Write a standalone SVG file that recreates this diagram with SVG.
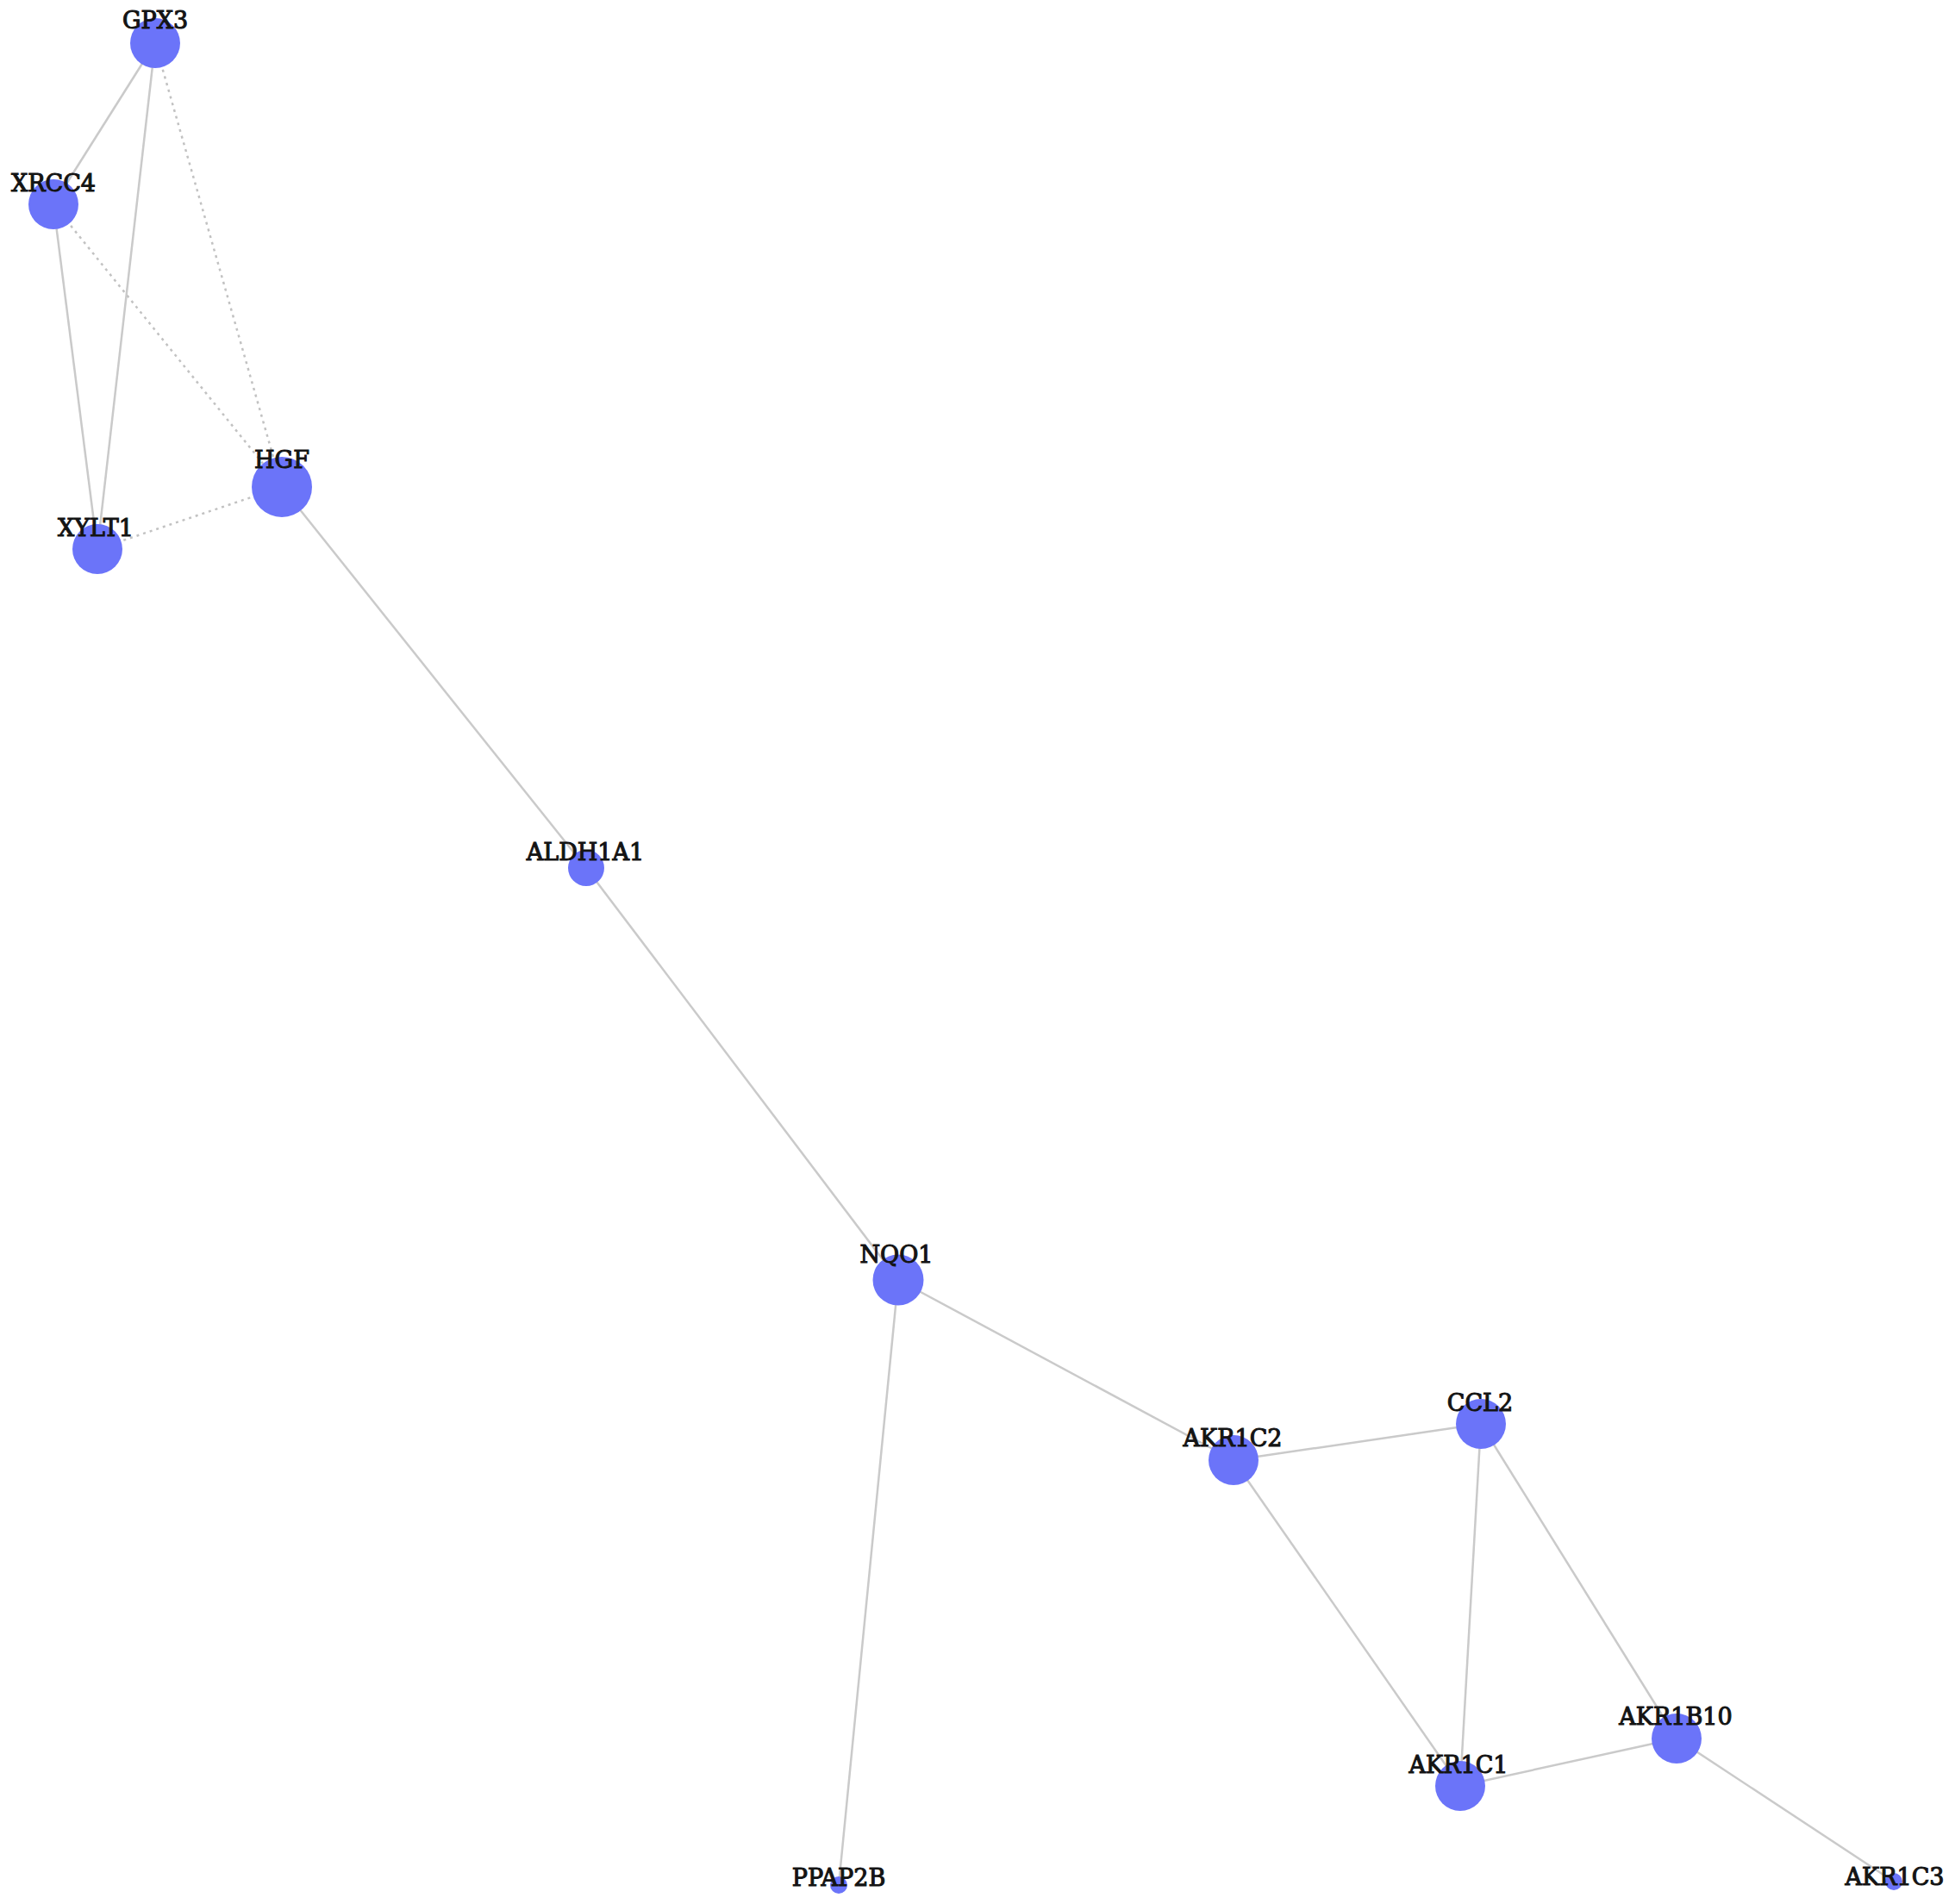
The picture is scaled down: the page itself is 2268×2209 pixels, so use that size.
<svg xmlns="http://www.w3.org/2000/svg" width="2268" height="2209" viewBox="0 0 2268 2209">
<style>
.e{stroke:#cacaca;stroke-width:2.5;fill:none}
.d{stroke:#c2c2c2;stroke-width:2.5;fill:none;stroke-dasharray:3 5}
.n{fill:#6b74f9}
.t{font-family:"DejaVu Serif",serif;font-size:27px;fill:#141414;stroke:#141414;stroke-width:1.1;text-anchor:middle}
</style>
<rect width="2268" height="2209" fill="#ffffff"/>
<g id="connectors">
<line class="e" x1="180" y1="50" x2="62" y2="237"/>
<line class="e" x1="180" y1="50" x2="113" y2="637"/>
<line class="e" x1="62" y1="237" x2="113" y2="637"/>
<line class="d" x1="180" y1="50" x2="327" y2="565"/>
<line class="d" x1="62" y1="237" x2="327" y2="565"/>
<line class="d" x1="113" y1="637" x2="327" y2="565"/>
<line class="e" x1="327" y1="565" x2="680" y2="1007"/>
<line class="e" x1="680" y1="1007" x2="1042" y2="1485"/>
<line class="e" x1="1042" y1="1485" x2="1431" y2="1694"/>
<line class="e" x1="1042" y1="1485" x2="973" y2="2187"/>
<line class="e" x1="1431" y1="1694" x2="1718" y2="1652"/>
<line class="e" x1="1431" y1="1694" x2="1694" y2="2072"/>
<line class="e" x1="1718" y1="1652" x2="1694" y2="2072"/>
<line class="e" x1="1718" y1="1652" x2="1945" y2="2017"/>
<line class="e" x1="1694" y1="2072" x2="1945" y2="2017"/>
<line class="e" x1="1945" y1="2017" x2="2197" y2="2183"/>
</g>
<g id="GPX3"><circle class="n" cx="180" cy="50" r="29"/><text class="t" x="180" y="33">GPX3</text></g>
<g id="XRCC4"><circle class="n" cx="62" cy="237" r="29"/><text class="t" x="62" y="222">XRCC4</text></g>
<g id="HGF"><circle class="n" cx="327" cy="565" r="35"/><text class="t" x="327" y="543">HGF</text></g>
<g id="XYLT1"><circle class="n" cx="113" cy="637" r="29"/><text class="t" x="111" y="622">XYLT1</text></g>
<g id="ALDH1A1"><circle class="n" cx="680" cy="1007" r="21"/><text class="t" x="679" y="998">ALDH1A1</text></g>
<g id="NQO1"><circle class="n" cx="1042" cy="1485" r="29.5"/><text class="t" x="1040" y="1465">NQO1</text></g>
<g id="AKR1C2"><circle class="n" cx="1431" cy="1694" r="29"/><text class="t" x="1430" y="1678">AKR1C2</text></g>
<g id="CCL2"><circle class="n" cx="1718" cy="1652" r="29"/><text class="t" x="1717" y="1637">CCL2</text></g>
<g id="AKR1C1"><circle class="n" cx="1694" cy="2072" r="29"/><text class="t" x="1692" y="2057">AKR1C1</text></g>
<g id="AKR1B10"><circle class="n" cx="1945" cy="2017" r="29"/><text class="t" x="1944" y="2001">AKR1B10</text></g>
<g id="AKR1C3"><circle class="n" cx="2197" cy="2183" r="10"/><text class="t" x="2198" y="2187">AKR1C3</text></g>
<g id="PPAP2B"><circle class="n" cx="973" cy="2187" r="10"/><text class="t" x="973" y="2188">PPAP2B</text></g>
</svg>
